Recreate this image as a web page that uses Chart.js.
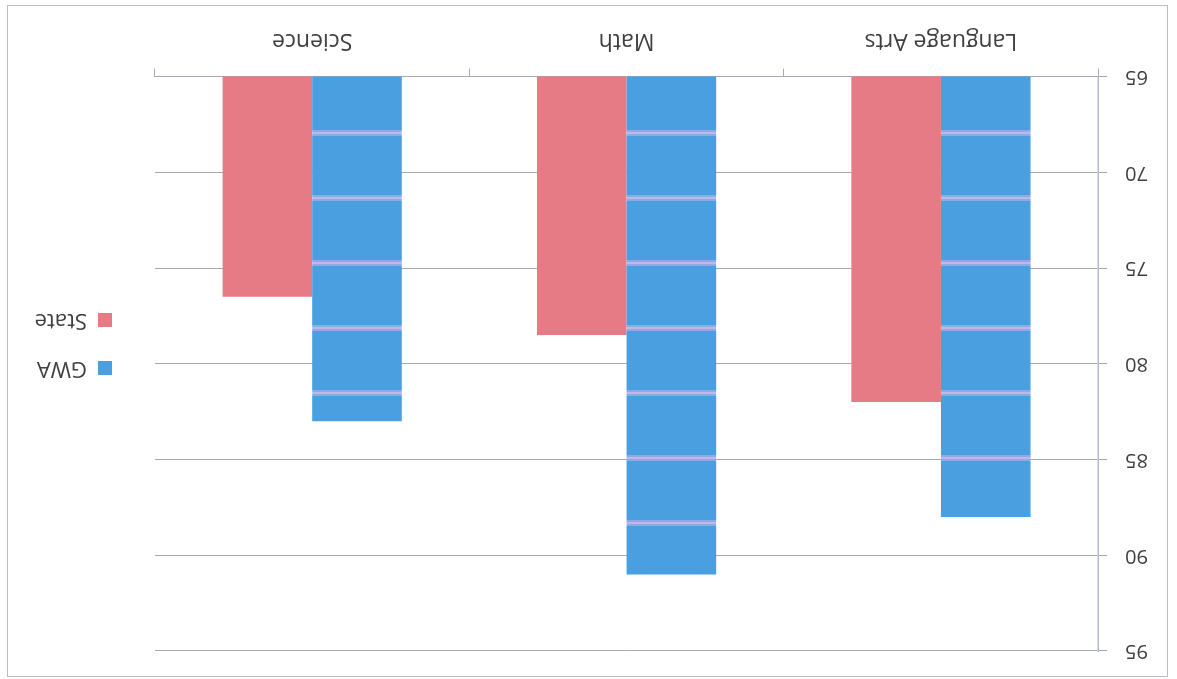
<!DOCTYPE html>
<html lang="en">
<head>
<meta charset="UTF-8">
<title>GWA vs State Scores</title>
<script src="https://cdn.jsdelivr.net/npm/chart.js"></script>
<style>
    html, body {
        margin: 0;
        padding: 0;
        background: #ffffff;
    }

    /* the printed sheet is turned over, so the whole chart is shown rotated */
    .sheet {
        position: absolute;
        left: 0;
        top: 0;
        width: 1177px;
        height: 679px;
        transform: rotate(180deg);
    }

    .frame {
        position: absolute;
        left: 9px;
        top: 2px;
        width: 1159px;
        height: 670px;
        border: 1.5px solid #b9bccc;
    }

    #scoresChart {
        position: absolute;
        left: 0;
        top: 0;
    }
</style>
</head>
<body>
<div class="sheet">
    <div class="frame"></div>
    <canvas id="scoresChart" width="1177" height="679"></canvas>
</div>

<script>
// Scores per subject
const subjects = ['Language Arts', 'Math', 'Science'];
const seriesNames = ['GWA', 'State'];
const gwaScores = [88, 91, 83];
const stateScores = [82, 78.5, 76.5];
const axisTicks = [65, 70, 75, 80, 85, 90, 95];

const BLUE = '#4a9fe0';
const RED = '#e67b85';
const TEXT = '#404040';
const FONT = "'Open Sans', sans-serif";

// Blue fill with the pale bands that run across the printed bars
const bandedFill = (base, band) => {
    const tile = document.createElement('canvas');
    tile.width = 4;
    tile.height = 65;
    const t = tile.getContext('2d');
    t.fillStyle = base;
    t.fillRect(0, 0, 4, 65);
    t.fillStyle = 'rgba(205, 185, 230, 0.5)';
    t.fillRect(0, 23, 4, 6);
    t.fillStyle = band;
    t.fillRect(0, 25, 4, 2);
    return document.getElementById('scoresChart').getContext('2d').createPattern(tile, 'repeat');
};

// Legend drawn to the right of the plot
const sideLegend = {
    id: 'sideLegend',
    afterDraw(chart) {
        const ctx = chart.ctx;
        const x = chart.chartArea.right + 43;
        ctx.save();
        ctx.font = `22px ${FONT}`;
        ctx.textBaseline = 'middle';
        chart.data.datasets.forEach((ds, i) => {
            const y = 311 + i * 48;
            ctx.fillStyle = ds.legendColor;
            ctx.fillRect(x, y - 7, 14, 14);
            ctx.fillStyle = TEXT;
            ctx.fillText(ds.label, x + 25, y);
        });
        ctx.restore();
    }
};

const ctx = document.getElementById('scoresChart').getContext('2d');
new Chart(ctx, {
    type: 'bar',
    data: {
        labels: subjects,
        datasets: [
            {
                label: seriesNames[0],
                data: gwaScores,
                backgroundColor: bandedFill(BLUE, 'rgba(200, 182, 232, 0.95)'),
                legendColor: BLUE,
            },
            {
                label: seriesNames[1],
                data: stateScores,
                backgroundColor: RED,
                legendColor: RED,
            }
        ]
    },
    options: {
        responsive: false,
        animation: false,
        layout: {
            padding: { left: 11, right: 155, top: 28, bottom: 13 }
        },
        datasets: {
            bar: {
                categoryPercentage: 0.57,
                barPercentage: 1.0,
            }
        },
        plugins: {
            legend: { display: false },
            tooltip: { enabled: false }
        },
        scales: {
            x: {
                grid: {
                    offset: true,
                    drawOnChartArea: false,
                    drawTicks: true,
                    tickLength: 8,
                    color: '#a9a9b3',
                },
                border: { color: '#a9a9b3', width: 1 },
                ticks: {
                    color: TEXT,
                    font: { family: FONT, size: 23 },
                    padding: 14,
                }
            },
            y: {
                min: 65,
                max: 95,
                afterBuildTicks: axis => {
                    axis.ticks = axisTicks.map(v => ({ value: v }));
                },
                grid: {
                    color: '#a9a9b0',
                    lineWidth: 1,
                    tickLength: 9,
                },
                border: { color: '#b3b9d2', width: 1.5 },
                ticks: {
                    color: TEXT,
                    font: { family: FONT, size: 20, lineHeight: 1 },
                    padding: 18,
                }
            }
        }
    },
    plugins: [sideLegend]
});
</script>
</body>
</html>
